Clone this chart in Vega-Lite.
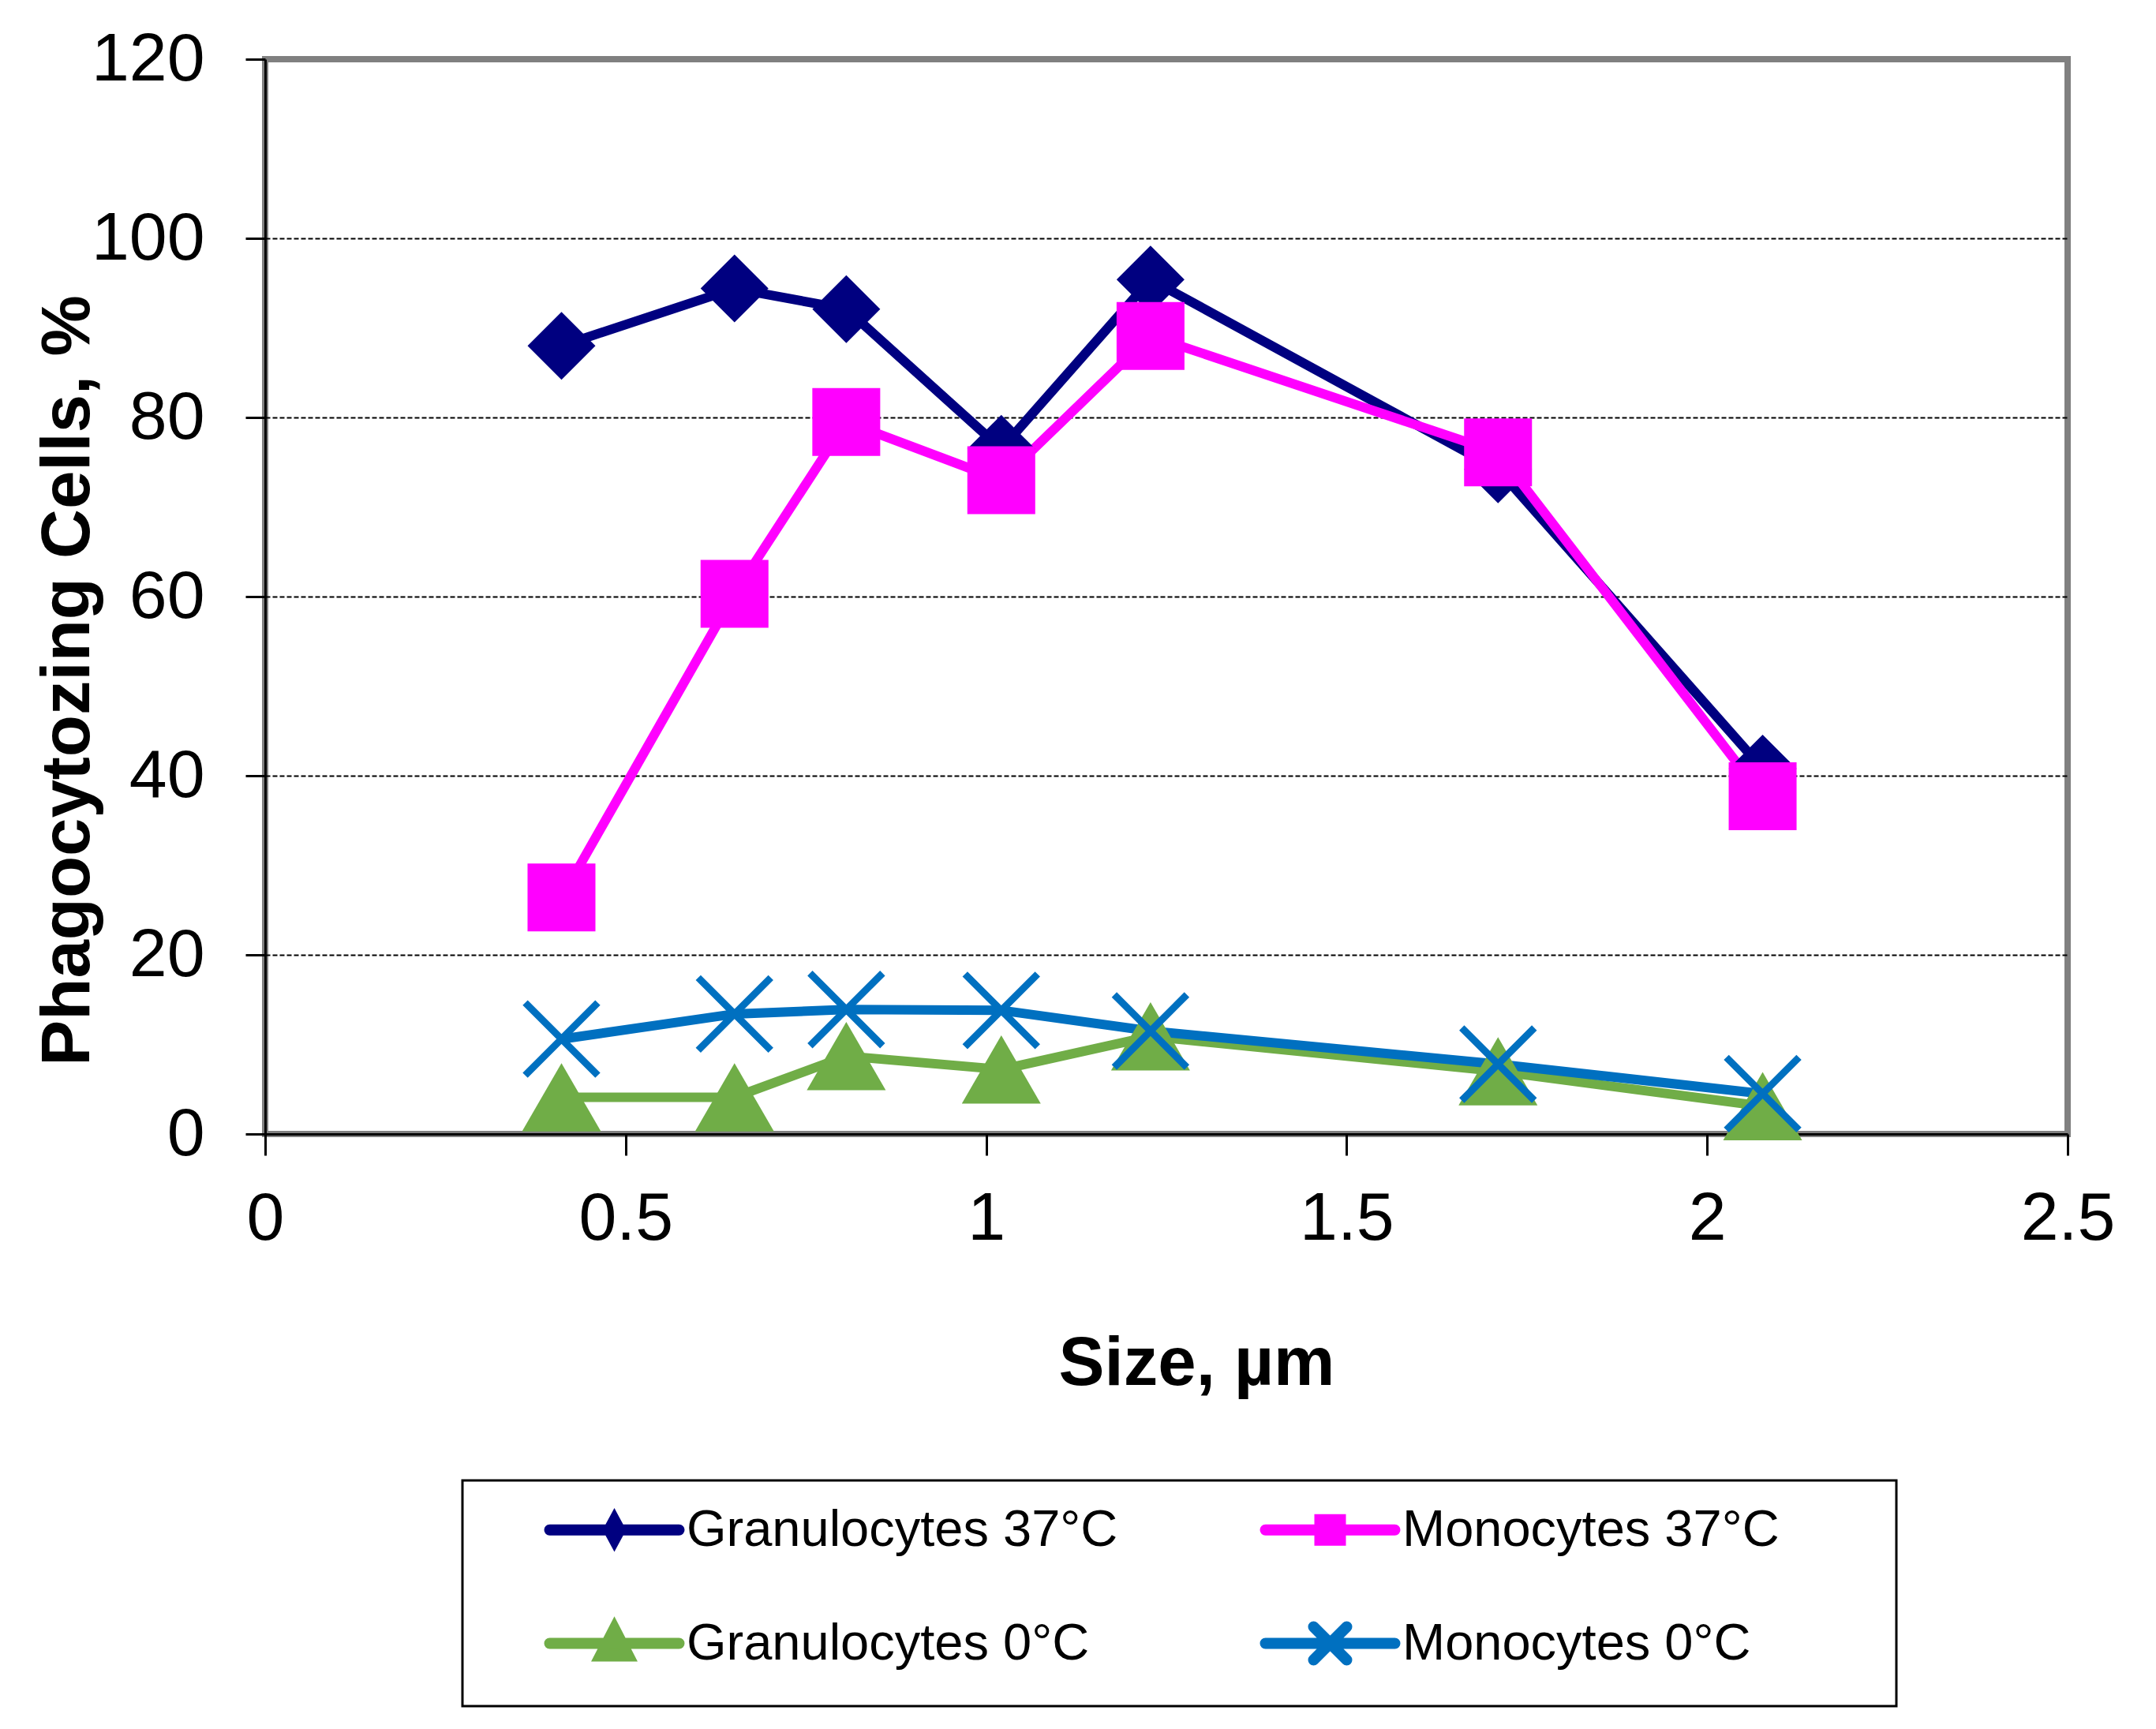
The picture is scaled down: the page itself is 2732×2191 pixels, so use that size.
{
  "$schema": "https://vega.github.io/schema/vega-lite/v6.json",
  "width": 2284,
  "height": 1362,
  "autosize": "none",
  "padding": {"left": 336, "top": 75, "right": 112, "bottom": 754},
  "background": "white",
  "config": {
    "font": "Liberation Sans",
    "view": {"stroke": "#808080", "strokeWidth": 8},
    "axis": {
      "labelFont": "Liberation Sans",
      "titleFont": "Liberation Sans",
      "labelColor": "black",
      "titleColor": "black",
      "domainColor": "black",
      "domainWidth": 3,
      "tickColor": "black",
      "tickWidth": 3,
      "labelFontSize": 86,
      "titleFontSize": 87,
      "titleFontWeight": "bold"
    }
  },
  "data": {
    "values": [
      {"size": 0.411, "pct": 88.0, "series": "Granulocytes 37°C"},
      {"size": 0.651, "pct": 94.4, "series": "Granulocytes 37°C"},
      {"size": 0.806, "pct": 92.1, "series": "Granulocytes 37°C"},
      {"size": 1.021, "pct": 76.5, "series": "Granulocytes 37°C"},
      {"size": 1.228, "pct": 95.4, "series": "Granulocytes 37°C"},
      {"size": 1.710, "pct": 74.2, "series": "Granulocytes 37°C"},
      {"size": 2.077, "pct": 40.8, "series": "Granulocytes 37°C"},
      {"size": 0.411, "pct": 26.4, "series": "Monocytes 37°C"},
      {"size": 0.651, "pct": 60.3, "series": "Monocytes 37°C"},
      {"size": 0.806, "pct": 79.5, "series": "Monocytes 37°C"},
      {"size": 1.021, "pct": 73.0, "series": "Monocytes 37°C"},
      {"size": 1.228, "pct": 89.1, "series": "Monocytes 37°C"},
      {"size": 1.710, "pct": 76.1, "series": "Monocytes 37°C"},
      {"size": 2.077, "pct": 37.7, "series": "Monocytes 37°C"},
      {"size": 0.411, "pct": 4.1, "series": "Granulocytes 0°C"},
      {"size": 0.651, "pct": 4.1, "series": "Granulocytes 0°C"},
      {"size": 0.806, "pct": 8.7, "series": "Granulocytes 0°C"},
      {"size": 1.021, "pct": 7.2, "series": "Granulocytes 0°C"},
      {"size": 1.228, "pct": 10.9, "series": "Granulocytes 0°C"},
      {"size": 1.710, "pct": 7.0, "series": "Granulocytes 0°C"},
      {"size": 2.077, "pct": 3.1, "series": "Granulocytes 0°C"},
      {"size": 0.411, "pct": 10.6, "series": "Monocytes 0°C"},
      {"size": 0.651, "pct": 13.4, "series": "Monocytes 0°C"},
      {"size": 0.806, "pct": 13.9, "series": "Monocytes 0°C"},
      {"size": 1.021, "pct": 13.8, "series": "Monocytes 0°C"},
      {"size": 1.228, "pct": 11.5, "series": "Monocytes 0°C"},
      {"size": 1.710, "pct": 7.8, "series": "Monocytes 0°C"},
      {"size": 2.077, "pct": 4.5, "series": "Monocytes 0°C"}
    ]
  },
  "encoding": {
    "x": {
      "field": "size",
      "type": "quantitative",
      "scale": {"domain": [0, 2.5], "nice": false, "zero": false},
      "axis": {
        "title": "Size, µm",
        "values": [0, 0.5, 1, 1.5, 2, 2.5],
        "labelExpr": "'' + datum.value",
        "grid": false,
        "tickSize": 27,
        "labelPadding": 38,
        "labelFlush": false,
        "titleX": 1180,
        "titleY": 317,
        "titleBaseline": "alphabetic",
        "titleAnchor": "middle"
      }
    },
    "y": {
      "field": "pct",
      "type": "quantitative",
      "scale": {"domain": [0, 120], "nice": false},
      "axis": {
        "title": "Phagocytozing Cells, %",
        "values": [0, 20, 40, 60, 80, 100, 120],
        "grid": true,
        "gridColor": "black",
        "gridWidth": 2,
        "gridDash": [6, 3],
        "gridOpacity": {"condition": {"test": "datum.value == 120 || datum.value == 0", "value": 0}, "value": 1},
        "tickSize": 25,
        "labelPadding": 52,
        "titleX": -250,
        "titleY": 787,
        "titleAngle": -90,
        "titleBaseline": "middle",
        "titleAnchor": "middle"
      }
    }
  },
  "layer": [
    {
      "mark": {"type": "line", "strokeWidth": 12},
      "encoding": {
        "color": {
          "field": "series",
          "type": "nominal",
          "scale": {
            "domain": ["Granulocytes 37°C", "Granulocytes 0°C", "Monocytes 37°C", "Monocytes 0°C"],
            "range": ["#000080", "#70AD47", "#FF00FF", "#0070C0"]
          },
          "legend": {
            "title": "\u00a0",
            "titleOrient": "right",
            "titleFontSize": 20,
            "titlePadding": 118,
            "orient": "none",
            "legendX": 250,
            "legendY": 1801,
            "direction": "vertical",
            "columns": 2,
            "padding": 30,
            "strokeColor": "black",
            "fillColor": "white",
            "symbolSize": 1600,
            "symbolOffset": 62,
            "symbolStrokeWidth": 14,
            "labelOffset": 127,
            "labelFont": "Liberation Sans",
            "labelFontSize": 65,
            "labelColor": "black",
            "labelLimit": 1000,
            "rowPadding": 53,
            "columnPadding": 106,
            "encode": {
              "legend": {
                "update": {
                  "stroke": {"value": "black"},
                  "strokeWidth": {"value": 3}
                }
              },
              "symbols": {
                "update": {
                  "shape": {"signal": "datum.value == 'Granulocytes 37°C' ? 'M-0.7,0L7.5,0M3.4,-0.65L3.75,0L3.4,0.65L3.05,0Z' : datum.value == 'Monocytes 37°C' ? 'M-0.7,0L7.5,0M2.75,-0.65L4.05,-0.65L4.05,0.65L2.75,0.65Z' : datum.value == 'Granulocytes 0°C' ? 'M-0.7,0L7.5,0M3.4,-0.95L4.3,0.8L2.5,0.8Z' : 'M-0.7,0L7.5,0M2.35,-1.05L4.45,1.05M2.35,1.05L4.45,-1.05'"},
                  "fill": {"signal": "datum.value == 'Granulocytes 37°C' ? '#000080' : datum.value == 'Monocytes 37°C' ? '#FF00FF' : datum.value == 'Granulocytes 0°C' ? '#70AD47' : '#0070C0'"},
                  "stroke": {"signal": "datum.value == 'Granulocytes 37°C' ? '#000080' : datum.value == 'Monocytes 37°C' ? '#FF00FF' : datum.value == 'Granulocytes 0°C' ? '#70AD47' : '#0070C0'"},
                  "strokeWidth": {"value": 14},
                  "strokeCap": {"value": "round"},
                  "opacity": {"value": 1}
                }
              }
            }
          }
        }
      }
    },
    {
      "transform": [{"filter": "datum.series == 'Granulocytes 37°C'"}],
      "mark": {"type": "point", "shape": "diamond", "filled": true, "color": "#000080", "size": 7400, "opacity": 1}
    },
    {
      "transform": [{"filter": "datum.series == 'Monocytes 37°C'"}],
      "mark": {"type": "point", "shape": "square", "filled": true, "color": "#FF00FF", "size": 7400, "opacity": 1}
    },
    {
      "transform": [{"filter": "datum.series == 'Granulocytes 0°C'"}],
      "mark": {"type": "point", "shape": "triangle-up", "filled": true, "color": "#70AD47", "size": 10000, "opacity": 1}
    },
    {
      "transform": [{"filter": "datum.series == 'Monocytes 0°C'"}],
      "mark": {"type": "point", "shape": "M-1,-1L1,1M-1,1L1,-1", "filled": false, "stroke": "#0070C0", "strokeWidth": 9, "size": 8464, "opacity": 1}
    }
  ]
}
